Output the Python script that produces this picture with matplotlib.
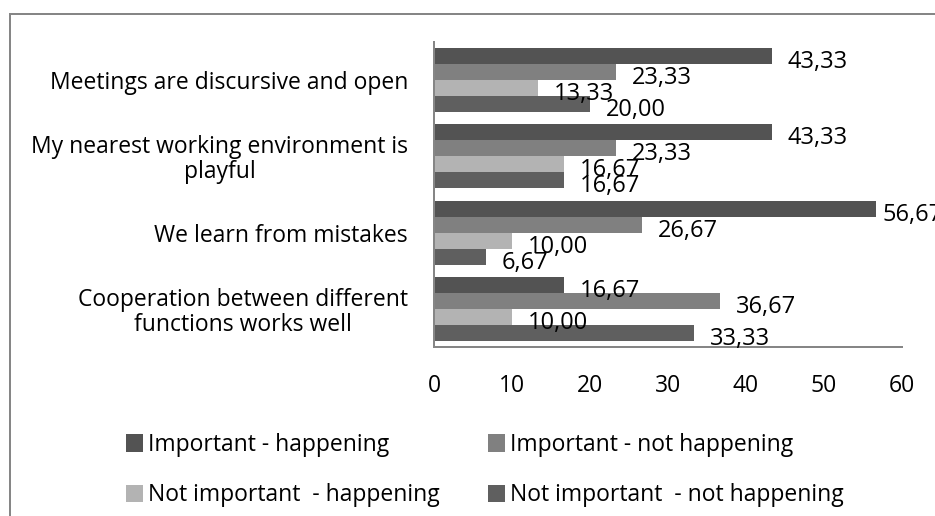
import matplotlib as mpl
mpl.use("Agg")
import matplotlib.pyplot as plt
from matplotlib.patches import Rectangle
import numpy as np

mpl.rcParams.update({
    "font.family": ["Open Sans", "DejaVu Sans"], "font.size": 16.5,
})

categories = ["Meetings are discursive and open",
              "My nearest working environment is\nplayful",
              "We learn from mistakes",
              "Cooperation between different\nfunctions works well"]
series = ["Important - happening", "Important - not happening",
          "Not important  - happening", "Not important  - not happening"]
imp_hap = [43.33, 43.33, 56.67, 16.67]
imp_not = [23.33, 23.33, 26.67, 36.67]
notimp_hap = [13.33, 16.67, 10.00, 10.00]
notimp_not = [20.00, 16.67, 6.67, 33.33]
values = [imp_hap, imp_not, notimp_hap, notimp_not]
colors = ["#535353", "#808080", "#b3b3b3", "#5f5f5f"]
xticks = [0, 10, 20, 30, 40, 50, 60]

PX = 0.72  # points per pixel at dpi 100
fig = plt.figure(figsize=(9.35, 5.16), dpi=100)
ax = fig.add_axes([434 / 935, 169 / 516, 468 / 935, 305 / 516])

h = 0.21
y = np.arange(len(categories))
bars = []
for i, (vals, col) in enumerate(zip(values, colors)):
    yy = y + (i - 1.5) * h
    b = ax.barh(yy, vals, height=h, color=col, edgecolor="none", label=series[i])
    bars.append(b)
    for yv, v in zip(yy, vals):
        # labels sit right of the bar end, nudged down; long ones held back like Excel does
        ax.annotate(f"{v:.2f}".replace(".", ","), (min(v, 55.5), yv),
                    xytext=(16 * PX, -6 * PX), textcoords="offset points",
                    ha="left", va="center", fontsize=17, annotation_clip=False)

ax.set_xlim(0, 60)
ax.set_ylim(-0.5, 3.5)
ax.invert_yaxis()
ax.set_xticks(xticks)
ax.set_yticks(y)
ax.set_yticklabels(categories, multialignment="center", linespacing=1.05)
ax.tick_params(length=0)
ax.tick_params(axis="y", pad=26 * PX)
ax.tick_params(axis="x", pad=27 * PX)
for s in ("top", "right"):
    ax.spines[s].set_visible(False)
for s in ("left", "bottom"):
    ax.spines[s].set_color("#868686")
    ax.spines[s].set_linewidth(2 * PX)

# two single-column legends so each column sits where the reference has it
for col_x, idx in ((126, [0, 2]), (488, [1, 3])):
    fig.legend([bars[i] for i in idx], [series[i] for i in idx], ncol=1,
               loc="upper left", bbox_to_anchor=(col_x / 935, 1 - 433 / 516),
               frameon=False, handlelength=0.74, handleheight=0.78,
               handletextpad=0.2, labelspacing=1.15,
               borderaxespad=0, borderpad=0)

fig.add_artist(Rectangle((10 / 935, -0.1), 1.2, (516 - 14) / 516 + 0.1,
                         transform=fig.transFigure, fill=False,
                         edgecolor="#868686", lw=2 * PX))

fig.savefig("out.png", dpi=100)
